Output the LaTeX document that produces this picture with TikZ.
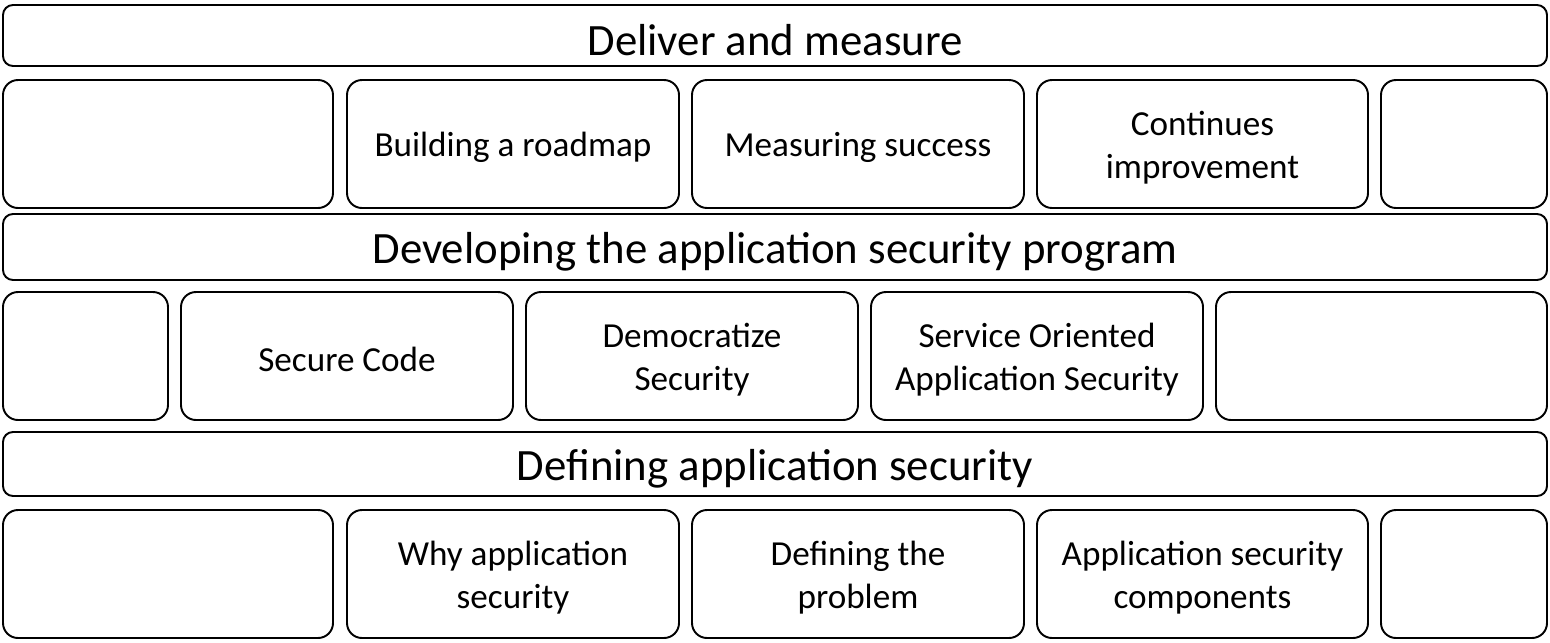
\documentclass[tikz,border=0pt]{standalone}
\usepackage{fontspec}
\setmainfont{Carlito}
\usepackage{tikz}

\newcommand{\brickstrut}{\rule{0pt}{0.9em}}

\tikzset{
    brick/.style={draw, line width=1.1pt, rounded corners=0.3cm, minimum height=2.56cm,
        align=center, inner sep=0pt, font=\fontsize{20}{24.5}\selectfont,
        execute at begin node={\brickstrut}},
    band/.style={draw, line width=1.1pt, rounded corners=0.2cm, minimum width=30.88cm,
        inner sep=0pt, font=\fontsize{25.5}{30}\selectfont,
        execute at begin node={\brickstrut}}
}

\begin{document}
\begin{tikzpicture}
    \useasboundingbox (0,0) rectangle (31,-12.84);

    % Top layer
    \node[band, minimum height=1.22cm] (deliver) at (15.5,-0.71) {Deliver and measure};

    \node[brick, minimum width=6.6cm]  (D1) at (3.36,-2.88)  {};
    \node[brick, minimum width=6.64cm] (D2) at (10.26,-2.88) {Building a roadmap};
    \node[brick, minimum width=6.64cm] (D3) at (17.16,-2.88) {Measuring success};
    \node[brick, minimum width=6.62cm] (D4) at (24.05,-2.88) {\brickstrut Continues\\improvement};
    \node[brick, minimum width=3.32cm] (D5) at (29.28,-2.88) {};

    % Middle layer
    \node[band, minimum height=1.32cm] (develop) at (15.5,-4.94) {Developing the application security program};

    \node[brick, minimum width=3.3cm]  (P1) at (1.71,-7.12)  {};
    \node[brick, minimum width=6.64cm] (P2) at (6.94,-7.12)  {Secure Code};
    \node[brick, minimum width=6.64cm] (P3) at (13.84,-7.12) {\brickstrut Democratize\\Security};
    \node[brick, minimum width=6.64cm] (P4) at (20.74,-7.12) {\brickstrut Service Oriented\\Application Security};
    \node[brick, minimum width=6.62cm] (P5) at (27.63,-7.12) {};

    % Bottom layer
    \node[band, minimum height=1.28cm] (define) at (15.5,-9.28) {Defining application security};

    \node[brick, minimum width=6.6cm]  (A1) at (3.36,-11.48)  {};
    \node[brick, minimum width=6.64cm] (A2) at (10.26,-11.48) {\brickstrut Why application\\security};
    \node[brick, minimum width=6.64cm] (A3) at (17.16,-11.48) {\brickstrut Defining the\\problem};
    \node[brick, minimum width=6.62cm] (A4) at (24.05,-11.48) {\brickstrut Application security\\components};
    \node[brick, minimum width=3.32cm] (A5) at (29.28,-11.48) {};
\end{tikzpicture}
\end{document}
